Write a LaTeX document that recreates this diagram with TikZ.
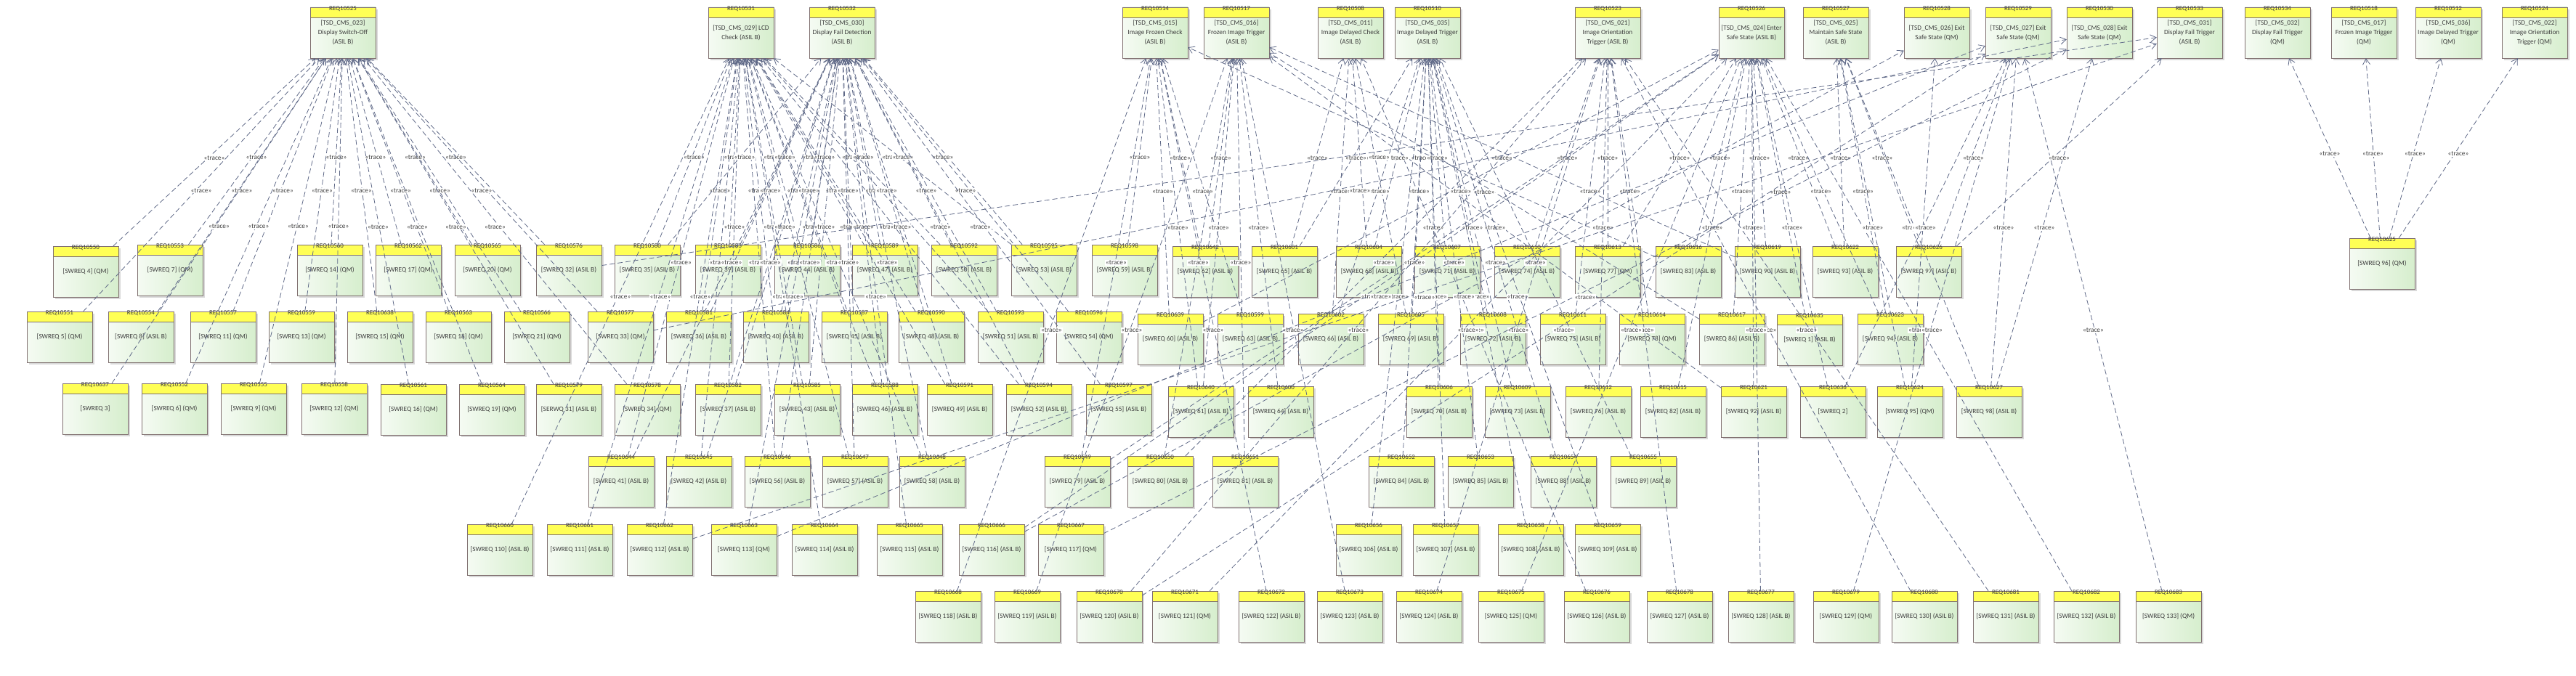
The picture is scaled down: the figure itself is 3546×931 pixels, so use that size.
\documentclass[tikz,border=0pt]{standalone}
\usepackage{fontspec}
\setmainfont{Carlito}
\usetikzlibrary{arrows.meta,shadows}
\definecolor{boxline}{RGB}{128,112,112}
\definecolor{hdrfill}{RGB}{255,255,85}
\definecolor{bodyleft}{RGB}{245,251,243}
\definecolor{bodyright}{RGB}{214,238,205}
\definecolor{tracecol}{RGB}{95,105,135}
\definecolor{textcol}{RGB}{62,62,62}
\tikzset{
    req/.style = {draw=boxline, rectangle,
        minimum width=90pt, minimum height=70pt,
        inner sep=0pt, align=center,
        left color=bodyleft, right color=bodyright, text=textcol,
        font=\fontsize{9.3}{13}\selectfont,
        drop shadow={shadow xshift=3pt, shadow yshift=-3pt, fill=black!25, opacity=0.6},
        path picture={\fill [hdrfill] (path picture bounding box.north west) rectangle ([yshift=-14pt]path picture bounding box.north east);
            \draw [boxline] ([yshift=-14pt]path picture bounding box.north west) -- ([yshift=-14pt]path picture bounding box.north east);}},
    reqid/.style = {anchor=center, yshift=-2pt, inner sep=0pt, text=textcol,
        font=\fontsize{9}{10}\selectfont},
    trace/.style = {draw=tracecol, line width=0.8pt, dash pattern=on 7pt off 4pt,
        -{Straight Barb[length=8pt,width=10pt]}},
    tlabel/.style = {midway, anchor=center, yshift=-8pt, fill=white, inner sep=1pt,
        text=textcol, font=\fontsize{9.3}{10}\selectfont}
}
\begin{document}
\begin{tikzpicture}[x=1pt, y=-1pt]
        \useasboundingbox (0,0) rectangle (3546,931);
        \node [req, label={[reqid]north:REQ10525}] (r10525) at (472,45) {[TSD\_CMS\_023]\\ Display Switch-Off\\ (ASIL B)};
        \node [req, label={[reqid]north:REQ10531}] (r10531) at (1020,45) {[TSD\_CMS\_029] LCD\\ Check (ASIL B)};
        \node [req, label={[reqid]north:REQ10532}] (r10532) at (1159,45) {[TSD\_CMS\_030]\\ Display Fail Detection\\ (ASIL B)};
        \node [req, label={[reqid]north:REQ10514}] (r10514) at (1590,45) {[TSD\_CMS\_015]\\ Image Frozen Check\\ (ASIL B)};
        \node [req, label={[reqid]north:REQ10517}] (r10517) at (1702,45) {[TSD\_CMS\_016]\\ Frozen Image Trigger\\ (ASIL B)};
        \node [req, label={[reqid]north:REQ10508}] (r10508) at (1859,45) {[TSD\_CMS\_011]\\ Image Delayed Check\\ (ASIL B)};
        \node [req, label={[reqid]north:REQ10510}] (r10510) at (1965,45) {[TSD\_CMS\_035]\\ Image Delayed Trigger\\ (ASIL B)};
        \node [req, label={[reqid]north:REQ10523}] (r10523) at (2213,45) {[TSD\_CMS\_021]\\ Image Orientation\\ Trigger (ASIL B)};
        \node [req, label={[reqid]north:REQ10526}] (r10526) at (2411,45) {[TSD\_CMS\_024] Enter\\ Safe State (ASIL B)};
        \node [req, label={[reqid]north:REQ10527}] (r10527) at (2527,45) {[TSD\_CMS\_025]\\ Maintain Safe State\\ (ASIL B)};
        \node [req, label={[reqid]north:REQ10528}] (r10528) at (2666,45) {[TSD\_CMS\_026] Exit\\ Safe State (QM)};
        \node [req, label={[reqid]north:REQ10529}] (r10529) at (2778,45) {[TSD\_CMS\_027] Exit\\ Safe State (QM)};
        \node [req, label={[reqid]north:REQ10530}] (r10530) at (2890,45) {[TSD\_CMS\_028] Exit\\ Safe State (QM)};
        \node [req, label={[reqid]north:REQ10533}] (r10533) at (3014,45) {[TSD\_CMS\_031]\\ Display Fail Trigger\\ (ASIL B)};
        \node [req, label={[reqid]north:REQ10534}] (r10534) at (3135,45) {[TSD\_CMS\_032]\\ Display Fail Trigger\\ (QM)};
        \node [req, label={[reqid]north:REQ10518}] (r10518) at (3254,45) {[TSD\_CMS\_017]\\ Frozen Image Trigger\\ (QM)};
        \node [req, label={[reqid]north:REQ10512}] (r10512) at (3370,45) {[TSD\_CMS\_036]\\ Image Delayed Trigger\\ (QM)};
        \node [req, label={[reqid]north:REQ10524}] (r10524) at (3489,45) {[TSD\_CMS\_022]\\ Image Orientation\\ Trigger (QM)};

        \node [req, label={[reqid]north:REQ10550}] (r10550) at (118,374) {[SWREQ 4] (QM)};
        \node [req, label={[reqid]north:REQ10553}] (r10553) at (234,372) {[SWREQ 7] (QM)};
        \node [req, label={[reqid]north:REQ10560}] (r10560) at (454,372) {[SWREQ 14] (QM)};
        \node [req, label={[reqid]north:REQ10562}] (r10562) at (562,372) {[SWREQ 17] (QM)};
        \node [req, label={[reqid]north:REQ10565}] (r10565) at (671,372) {[SWREQ 20] (QM)};
        \node [req, label={[reqid]north:REQ10576}] (r10576) at (783,372) {[SWREQ 32] (ASIL B)};
        \node [req, label={[reqid]north:REQ10580}] (r10580) at (891,372) {[SWREQ 35] (ASIL B)};
        \node [req, label={[reqid]north:REQ10583}] (r10583) at (1002,372) {[SWREQ 39] (ASIL B)};
        \node [req, label={[reqid]north:REQ10586}] (r10586) at (1111,372) {[SWREQ 44] (ASIL B)};
        \node [req, label={[reqid]north:REQ10589}] (r10589) at (1218,372) {[SWREQ 47] (ASIL B)};
        \node [req, label={[reqid]north:REQ10592}] (r10592) at (1327,372) {[SWREQ 50] (ASIL B)};
        \node [req, label={[reqid]north:REQ10595}] (r10595) at (1437,372) {[SWREQ 53] (ASIL B)};
        \node [req, label={[reqid]north:REQ10598}] (r10598) at (1548,372) {[SWREQ 59] (ASIL B)};
        \node [req, label={[reqid]north:REQ10642}] (r10642) at (1659,374) {[SWREQ 62] (ASIL B)};
        \node [req, label={[reqid]north:REQ10601}] (r10601) at (1768,374) {[SWREQ 65] (ASIL B)};
        \node [req, label={[reqid]north:REQ10604}] (r10604) at (1884,374) {[SWREQ 68] (ASIL B)};
        \node [req, label={[reqid]north:REQ10607}] (r10607) at (1992,374) {[SWREQ 71] (ASIL B)};
        \node [req, label={[reqid]north:REQ10610}] (r10610) at (2102,374) {[SWREQ 74] (ASIL B)};
        \node [req, label={[reqid]north:REQ10613}] (r10613) at (2213,374) {[SWREQ 77] (QM)};
        \node [req, label={[reqid]north:REQ10616}] (r10616) at (2324,374) {[SWREQ 83] (ASIL B)};
        \node [req, label={[reqid]north:REQ10619}] (r10619) at (2433,374) {[SWREQ 90] (ASIL B)};
        \node [req, label={[reqid]north:REQ10622}] (r10622) at (2540,374) {[SWREQ 93] (ASIL B)};
        \node [req, label={[reqid]north:REQ10626}] (r10626) at (2655,374) {[SWREQ 97] (ASIL B)};
        \node [req, label={[reqid]north:REQ10625}] (r10625) at (3279,363) {[SWREQ 96] (QM)};

        \node [req, label={[reqid]north:REQ10551}] (r10551) at (82,464) {[SWREQ 5] (QM)};
        \node [req, label={[reqid]north:REQ10554}] (r10554) at (194,464) {[SWREQ 8] (ASIL B)};
        \node [req, label={[reqid]north:REQ10557}] (r10557) at (307,464) {[SWREQ 11] (QM)};
        \node [req, label={[reqid]north:REQ10559}] (r10559) at (415,464) {[SWREQ 13] (QM)};
        \node [req, label={[reqid]north:REQ10638}] (r10638) at (523,464) {[SWREQ 15] (QM)};
        \node [req, label={[reqid]north:REQ10563}] (r10563) at (631,464) {[SWREQ 18] (QM)};
        \node [req, label={[reqid]north:REQ10566}] (r10566) at (739,464) {[SWREQ 21] (QM)};
        \node [req, label={[reqid]north:REQ10577}] (r10577) at (854,464) {[SWREQ 33] (QM)};
        \node [req, label={[reqid]north:REQ10581}] (r10581) at (962,464) {[SWREQ 36] (ASIL B)};
        \node [req, label={[reqid]north:REQ10584}] (r10584) at (1068,464) {[SWREQ 40] (ASIL B)};
        \node [req, label={[reqid]north:REQ10587}] (r10587) at (1176,464) {[SWREQ 45] (ASIL B)};
        \node [req, label={[reqid]north:REQ10590}] (r10590) at (1282,464) {[SWREQ 48] (ASIL B)};
        \node [req, label={[reqid]north:REQ10593}] (r10593) at (1391,464) {[SWREQ 51] (ASIL B)};
        \node [req, label={[reqid]north:REQ10596}] (r10596) at (1499,464) {[SWREQ 54] (QM)};
        \node [req, label={[reqid]north:REQ10639}] (r10639) at (1611,467) {[SWREQ 60] (ASIL B)};
        \node [req, label={[reqid]north:REQ10599}] (r10599) at (1721,467) {[SWREQ 63] (ASIL B)};
        \node [req, label={[reqid]north:REQ10602}] (r10602) at (1832,467) {[SWREQ 66] (ASIL B)};
        \node [req, label={[reqid]north:REQ10605}] (r10605) at (1942,467) {[SWREQ 69] (ASIL B)};
        \node [req, label={[reqid]north:REQ10608}] (r10608) at (2055,467) {[SWREQ 72] (ASIL B)};
        \node [req, label={[reqid]north:REQ10611}] (r10611) at (2165,467) {[SWREQ 75] (ASIL B)};
        \node [req, label={[reqid]north:REQ10614}] (r10614) at (2274,467) {[SWREQ 78] (QM)};
        \node [req, label={[reqid]north:REQ10617}] (r10617) at (2384,467) {[SWREQ 86] (ASIL B)};
        \node [req, label={[reqid]north:REQ10635}] (r10635) at (2491,468) {[SWREQ 1] (ASIL B)};
        \node [req, label={[reqid]north:REQ10623}] (r10623) at (2602,467) {[SWREQ 94] (ASIL B)};

        \node [req, label={[reqid]north:REQ10637}] (r10637) at (131,563) {[SWREQ 3]};
        \node [req, label={[reqid]north:REQ10552}] (r10552) at (240,563) {[SWREQ 6] (QM)};
        \node [req, label={[reqid]north:REQ10555}] (r10555) at (349,563) {[SWREQ 9] (QM)};
        \node [req, label={[reqid]north:REQ10558}] (r10558) at (460,563) {[SWREQ 12] (QM)};
        \node [req, label={[reqid]north:REQ10561}] (r10561) at (569,564) {[SWREQ 16] (QM)};
        \node [req, label={[reqid]north:REQ10564}] (r10564) at (677,564) {[SWREQ 19] (QM)};
        \node [req, label={[reqid]north:REQ10579}] (r10579) at (783,564) {[SERWQ 31] (ASIL B)};
        \node [req, label={[reqid]north:REQ10578}] (r10578) at (891,564) {[SWREQ 34] (QM)};
        \node [req, label={[reqid]north:REQ10582}] (r10582) at (1002,564) {[SWREQ 37] (ASIL B)};
        \node [req, label={[reqid]north:REQ10585}] (r10585) at (1111,564) {[SWREQ 43] (ASIL B)};
        \node [req, label={[reqid]north:REQ10588}] (r10588) at (1218,564) {[SWREQ 46] (ASIL B)};
        \node [req, label={[reqid]north:REQ10591}] (r10591) at (1321,564) {[SWREQ 49] (ASIL B)};
        \node [req, label={[reqid]north:REQ10594}] (r10594) at (1430,564) {[SWREQ 52] (ASIL B)};
        \node [req, label={[reqid]north:REQ10597}] (r10597) at (1540,564) {[SWREQ 55] (ASIL B)};
        \node [req, label={[reqid]north:REQ10640}] (r10640) at (1653,567) {[SWREQ 61] (ASIL B)};
        \node [req, label={[reqid]north:REQ10600}] (r10600) at (1763,567) {[SWREQ 64] (ASIL B)};
        \node [req, label={[reqid]north:REQ10606}] (r10606) at (1981,567) {[SWREQ 70] (ASIL B)};
        \node [req, label={[reqid]north:REQ10609}] (r10609) at (2089,567) {[SWREQ 73] (ASIL B)};
        \node [req, label={[reqid]north:REQ10612}] (r10612) at (2200,567) {[SWREQ 76] (ASIL B)};
        \node [req, label={[reqid]north:REQ10615}] (r10615) at (2303,567) {[SWREQ 82] (ASIL B)};
        \node [req, label={[reqid]north:REQ10621}] (r10621) at (2414,567) {[SWREQ 92] (ASIL B)};
        \node [req, label={[reqid]north:REQ10636}] (r10636) at (2523,567) {[SWREQ 2]};
        \node [req, label={[reqid]north:REQ10624}] (r10624) at (2629,567) {[SWREQ 95] (QM)};
        \node [req, label={[reqid]north:REQ10627}] (r10627) at (2738,567) {[SWREQ 98] (ASIL B)};

        \node [req, label={[reqid]north:REQ10644}] (r10644) at (855,663) {[SWREQ 41] (ASIL B)};
        \node [req, label={[reqid]north:REQ10645}] (r10645) at (962,663) {[SWREQ 42] (ASIL B)};
        \node [req, label={[reqid]north:REQ10646}] (r10646) at (1070,663) {[SWREQ 56] (ASIL B)};
        \node [req, label={[reqid]north:REQ10647}] (r10647) at (1177,663) {[SWREQ 57] (ASIL B)};
        \node [req, label={[reqid]north:REQ10648}] (r10648) at (1283,663) {[SWREQ 58] (ASIL B)};
        \node [req, label={[reqid]north:REQ10649}] (r10649) at (1483,663) {[SWREQ 79] (ASIL B)};
        \node [req, label={[reqid]north:REQ10650}] (r10650) at (1597,663) {[SWREQ 80] (ASIL B)};
        \node [req, label={[reqid]north:REQ10651}] (r10651) at (1714,663) {[SWREQ 81] (ASIL B)};
        \node [req, label={[reqid]north:REQ10652}] (r10652) at (1929,663) {[SWREQ 84] (ASIL B)};
        \node [req, label={[reqid]north:REQ10653}] (r10653) at (2038,663) {[SWREQ 85] (ASIL B)};
        \node [req, label={[reqid]north:REQ10654}] (r10654) at (2152,663) {[SWREQ 88] (ASIL B)};
        \node [req, label={[reqid]north:REQ10655}] (r10655) at (2262,663) {[SWREQ 89] (ASIL B)};

        \node [req, label={[reqid]north:REQ10660}] (r10660) at (688,757) {[SWREQ 110] (ASIL B)};
        \node [req, label={[reqid]north:REQ10661}] (r10661) at (798,757) {[SWREQ 111] (ASIL B)};
        \node [req, label={[reqid]north:REQ10662}] (r10662) at (908,757) {[SWREQ 112] (ASIL B)};
        \node [req, label={[reqid]north:REQ10663}] (r10663) at (1024,757) {[SWREQ 113] (QM)};
        \node [req, label={[reqid]north:REQ10664}] (r10664) at (1135,757) {[SWREQ 114] (ASIL B)};
        \node [req, label={[reqid]north:REQ10665}] (r10665) at (1252,757) {[SWREQ 115] (ASIL B)};
        \node [req, label={[reqid]north:REQ10666}] (r10666) at (1365,757) {[SWREQ 116] (ASIL B)};
        \node [req, label={[reqid]north:REQ10667}] (r10667) at (1474,757) {[SWREQ 117] (QM)};
        \node [req, label={[reqid]north:REQ10656}] (r10656) at (1884,757) {[SWREQ 106] (ASIL B)};
        \node [req, label={[reqid]north:REQ10657}] (r10657) at (1990,757) {[SWREQ 107] (ASIL B)};
        \node [req, label={[reqid]north:REQ10658}] (r10658) at (2107,757) {[SWREQ 108] (ASIL B)};
        \node [req, label={[reqid]north:REQ10659}] (r10659) at (2213,757) {[SWREQ 109] (ASIL B)};

        \node [req, label={[reqid]north:REQ10668}] (r10668) at (1305,849) {[SWREQ 118] (ASIL B)};
        \node [req, label={[reqid]north:REQ10669}] (r10669) at (1414,849) {[SWREQ 119] (ASIL B)};
        \node [req, label={[reqid]north:REQ10670}] (r10670) at (1527,849) {[SWREQ 120] (ASIL B)};
        \node [req, label={[reqid]north:REQ10671}] (r10671) at (1631,849) {[SWREQ 121] (QM)};
        \node [req, label={[reqid]north:REQ10672}] (r10672) at (1750,849) {[SWREQ 122] (ASIL B)};
        \node [req, label={[reqid]north:REQ10673}] (r10673) at (1858,849) {[SWREQ 123] (ASIL B)};
        \node [req, label={[reqid]north:REQ10674}] (r10674) at (1967,849) {[SWREQ 124] (ASIL B)};
        \node [req, label={[reqid]north:REQ10675}] (r10675) at (2080,849) {[SWREQ 125] (QM)};
        \node [req, label={[reqid]north:REQ10676}] (r10676) at (2198,849) {[SWREQ 126] (ASIL B)};
        \node [req, label={[reqid]north:REQ10678}] (r10678) at (2312,849) {[SWREQ 127] (ASIL B)};
        \node [req, label={[reqid]north:REQ10677}] (r10677) at (2424,849) {[SWREQ 128] (ASIL B)};
        \node [req, label={[reqid]north:REQ10679}] (r10679) at (2541,849) {[SWREQ 129] (QM)};
        \node [req, label={[reqid]north:REQ10680}] (r10680) at (2649,849) {[SWREQ 130] (ASIL B)};
        \node [req, label={[reqid]north:REQ10681}] (r10681) at (2761,849) {[SWREQ 131] (ASIL B)};
        \node [req, label={[reqid]north:REQ10682}] (r10682) at (2872,849) {[SWREQ 132] (ASIL B)};
        \node [req, label={[reqid]north:REQ10683}] (r10683) at (2985,849) {[SWREQ 133] (QM)};

        \draw [trace] (r10550) -- node [tlabel] {«trace»} (r10525);
        \draw [trace] (r10553) -- node [tlabel] {«trace»} (r10525);
        \draw [trace] (r10560) -- node [tlabel] {«trace»} (r10525);
        \draw [trace] (r10562) -- node [tlabel] {«trace»} (r10525);
        \draw [trace] (r10565) -- node [tlabel] {«trace»} (r10525);
        \draw [trace] (r10576) -- node [tlabel] {«trace»} (r10525);
        \draw [trace] (r10551) -- node [tlabel] {«trace»} (r10525);
        \draw [trace] (r10554) -- node [tlabel] {«trace»} (r10525);
        \draw [trace] (r10557) -- node [tlabel] {«trace»} (r10525);
        \draw [trace] (r10559) -- node [tlabel] {«trace»} (r10525);
        \draw [trace] (r10638) -- node [tlabel] {«trace»} (r10525);
        \draw [trace] (r10563) -- node [tlabel] {«trace»} (r10525);
        \draw [trace] (r10566) -- node [tlabel] {«trace»} (r10525);
        \draw [trace] (r10577) -- node [tlabel] {«trace»} (r10525);
        \draw [trace] (r10637) -- node [tlabel] {«trace»} (r10525);
        \draw [trace] (r10552) -- node [tlabel] {«trace»} (r10525);
        \draw [trace] (r10555) -- node [tlabel] {«trace»} (r10525);
        \draw [trace] (r10558) -- node [tlabel] {«trace»} (r10525);
        \draw [trace] (r10561) -- node [tlabel] {«trace»} (r10525);
        \draw [trace] (r10564) -- node [tlabel] {«trace»} (r10525);
        \draw [trace] (r10579) -- node [tlabel] {«trace»} (r10525);
        \draw [trace] (r10578) -- node [tlabel] {«trace»} (r10525);

        \draw [trace] (r10580) -- node [tlabel] {«trace»} (r10531);
        \draw [trace] (r10583) -- node [tlabel] {«trace»} (r10531);
        \draw [trace] (r10586) -- node [tlabel] {«trace»} (r10531);
        \draw [trace] (r10589) -- node [tlabel] {«trace»} (r10531);
        \draw [trace] (r10592) -- node [tlabel] {«trace»} (r10531);
        \draw [trace] (r10595) -- node [tlabel] {«trace»} (r10531);
        \draw [trace] (r10581) -- node [tlabel] {«trace»} (r10531);
        \draw [trace] (r10584) -- node [tlabel] {«trace»} (r10531);
        \draw [trace] (r10587) -- node [tlabel] {«trace»} (r10531);
        \draw [trace] (r10590) -- node [tlabel] {«trace»} (r10531);
        \draw [trace] (r10593) -- node [tlabel] {«trace»} (r10531);
        \draw [trace] (r10582) -- node [tlabel] {«trace»} (r10531);
        \draw [trace] (r10585) -- node [tlabel] {«trace»} (r10531);
        \draw [trace] (r10588) -- node [tlabel] {«trace»} (r10531);
        \draw [trace] (r10591) -- node [tlabel] {«trace»} (r10531);
        \draw [trace] (r10594) -- node [tlabel] {«trace»} (r10531);
        \draw [trace] (r10644) -- node [tlabel] {«trace»} (r10531);
        \draw [trace] (r10645) -- node [tlabel] {«trace»} (r10531);
        \draw [trace] (r10646) -- node [tlabel] {«trace»} (r10531);
        \draw [trace] (r10647) -- node [tlabel] {«trace»} (r10531);
        \draw [trace] (r10648) -- node [tlabel] {«trace»} (r10531);
        \draw [trace] (r10660) -- node [tlabel] {«trace»} (r10531);
        \draw [trace] (r10661) -- node [tlabel] {«trace»} (r10531);
        \draw [trace] (r10662) -- node [tlabel] {«trace»} (r10531);
        \draw [trace] (r10664) -- node [tlabel] {«trace»} (r10531);

        \draw [trace] (r10580) -- node [tlabel] {«trace»} (r10532);
        \draw [trace] (r10583) -- node [tlabel] {«trace»} (r10532);
        \draw [trace] (r10586) -- node [tlabel] {«trace»} (r10532);
        \draw [trace] (r10589) -- node [tlabel] {«trace»} (r10532);
        \draw [trace] (r10592) -- node [tlabel] {«trace»} (r10532);
        \draw [trace] (r10595) -- node [tlabel] {«trace»} (r10532);
        \draw [trace] (r10581) -- node [tlabel] {«trace»} (r10532);
        \draw [trace] (r10584) -- node [tlabel] {«trace»} (r10532);
        \draw [trace] (r10587) -- node [tlabel] {«trace»} (r10532);
        \draw [trace] (r10590) -- node [tlabel] {«trace»} (r10532);
        \draw [trace] (r10593) -- node [tlabel] {«trace»} (r10532);
        \draw [trace] (r10596) -- node [tlabel] {«trace»} (r10532);
        \draw [trace] (r10582) -- node [tlabel] {«trace»} (r10532);
        \draw [trace] (r10585) -- node [tlabel] {«trace»} (r10532);
        \draw [trace] (r10588) -- node [tlabel] {«trace»} (r10532);
        \draw [trace] (r10591) -- node [tlabel] {«trace»} (r10532);
        \draw [trace] (r10594) -- node [tlabel] {«trace»} (r10532);
        \draw [trace] (r10597) -- node [tlabel] {«trace»} (r10532);
        \draw [trace] (r10644) -- node [tlabel] {«trace»} (r10532);
        \draw [trace] (r10645) -- node [tlabel] {«trace»} (r10532);
        \draw [trace] (r10646) -- node [tlabel] {«trace»} (r10532);
        \draw [trace] (r10647) -- node [tlabel] {«trace»} (r10532);
        \draw [trace] (r10648) -- node [tlabel] {«trace»} (r10532);
        \draw [trace] (r10663) -- node [tlabel] {«trace»} (r10532);
        \draw [trace] (r10665) -- node [tlabel] {«trace»} (r10532);

        \draw [trace] (r10598) -- node [tlabel] {«trace»} (r10514);
        \draw [trace] (r10639) -- node [tlabel] {«trace»} (r10514);
        \draw [trace] (r10599) -- node [tlabel] {«trace»} (r10514);
        \draw [trace] (r10640) -- node [tlabel] {«trace»} (r10514);
        \draw [trace] (r10642) -- node [tlabel] {«trace»} (r10514);
        \draw [trace] (r10649) -- node [tlabel] {«trace»} (r10514);
        \draw [trace] (r10668) -- node [tlabel] {«trace»} (r10514);
        \draw [trace] (r10672) -- node [tlabel] {«trace»} (r10514);
        \draw [trace] (r10616) -- node [tlabel] {«trace»} (r10514);

        \draw [trace] (r10642) -- node [tlabel] {«trace»} (r10517);
        \draw [trace] (r10600) -- node [tlabel] {«trace»} (r10517);
        \draw [trace] (r10640) -- node [tlabel] {«trace»} (r10517);
        \draw [trace] (r10650) -- node [tlabel] {«trace»} (r10517);
        \draw [trace] (r10651) -- node [tlabel] {«trace»} (r10517);
        \draw [trace] (r10669) -- node [tlabel] {«trace»} (r10517);
        \draw [trace] (r10673) -- node [tlabel] {«trace»} (r10517);
        \draw [trace] (r10619) -- node [tlabel] {«trace»} (r10517);
        \draw [trace] (r10617) -- node [tlabel] {«trace»} (r10517);
        \draw [trace] (r10621) -- node [tlabel] {«trace»} (r10517);

        \draw [trace] (r10601) -- node [tlabel] {«trace»} (r10508);
        \draw [trace] (r10602) -- node [tlabel] {«trace»} (r10508);
        \draw [trace] (r10604) -- node [tlabel] {«trace»} (r10508);
        \draw [trace] (r10605) -- node [tlabel] {«trace»} (r10508);
        \draw [trace] (r10676) -- node [tlabel] {«trace»} (r10508);

        \draw [trace] (r10601) -- node [tlabel] {«trace»} (r10510);
        \draw [trace] (r10604) -- node [tlabel] {«trace»} (r10510);
        \draw [trace] (r10607) -- node [tlabel] {«trace»} (r10510);
        \draw [trace] (r10602) -- node [tlabel] {«trace»} (r10510);
        \draw [trace] (r10605) -- node [tlabel] {«trace»} (r10510);
        \draw [trace] (r10608) -- node [tlabel] {«trace»} (r10510);
        \draw [trace] (r10606) -- node [tlabel] {«trace»} (r10510);
        \draw [trace] (r10609) -- node [tlabel] {«trace»} (r10510);
        \draw [trace] (r10652) -- node [tlabel] {«trace»} (r10510);
        \draw [trace] (r10653) -- node [tlabel] {«trace»} (r10510);
        \draw [trace] (r10654) -- node [tlabel] {«trace»} (r10510);
        \draw [trace] (r10655) -- node [tlabel] {«trace»} (r10510);
        \draw [trace] (r10656) -- node [tlabel] {«trace»} (r10510);
        \draw [trace] (r10657) -- node [tlabel] {«trace»} (r10510);
        \draw [trace] (r10658) -- node [tlabel] {«trace»} (r10510);
        \draw [trace] (r10659) -- node [tlabel] {«trace»} (r10510);

        \draw [trace] (r10610) -- node [tlabel] {«trace»} (r10523);
        \draw [trace] (r10613) -- node [tlabel] {«trace»} (r10523);
        \draw [trace] (r10611) -- node [tlabel] {«trace»} (r10523);
        \draw [trace] (r10614) -- node [tlabel] {«trace»} (r10523);
        \draw [trace] (r10612) -- node [tlabel] {«trace»} (r10523);
        \draw [trace] (r10674) -- node [tlabel] {«trace»} (r10523);
        \draw [trace] (r10678) -- node [tlabel] {«trace»} (r10523);
        \draw [trace] (r10680) -- node [tlabel] {«trace»} (r10523);
        \draw [trace] (r10681) -- node [tlabel] {«trace»} (r10523);
        \draw [trace] (r10650) -- node [tlabel] {«trace»} (r10523);
        \draw [trace] (r10670) -- node [tlabel] {«trace»} (r10523);

        \draw [trace] (r10616) -- node [tlabel] {«trace»} (r10526);
        \draw [trace] (r10619) -- node [tlabel] {«trace»} (r10526);
        \draw [trace] (r10622) -- node [tlabel] {«trace»} (r10526);
        \draw [trace] (r10617) -- node [tlabel] {«trace»} (r10526);
        \draw [trace] (r10635) -- node [tlabel] {«trace»} (r10526);
        \draw [trace] (r10615) -- node [tlabel] {«trace»} (r10526);
        \draw [trace] (r10621) -- node [tlabel] {«trace»} (r10526);
        \draw [trace] (r10636) -- node [tlabel] {«trace»} (r10526);
        \draw [trace] (r10623) -- node [tlabel] {«trace»} (r10526);
        \draw [trace] (r10675) -- node [tlabel] {«trace»} (r10526);
        \draw [trace] (r10677) -- node [tlabel] {«trace»} (r10526);
        \draw [trace] (r10682) -- node [tlabel] {«trace»} (r10526);
        \draw [trace] (r10613) -- node [tlabel] {«trace»} (r10526);
        \draw [trace] (r10639) -- node [tlabel] {«trace»} (r10526);
        \draw [trace] (r10649) -- node [tlabel] {«trace»} (r10526);
        \draw [trace] (r10666) -- node [tlabel] {«trace»} (r10526);
        \draw [trace] (r10671) -- node [tlabel] {«trace»} (r10526);

        \draw [trace] (r10626) -- node [tlabel] {«trace»} (r10527);
        \draw [trace] (r10623) -- node [tlabel] {«trace»} (r10527);
        \draw [trace] (r10624) -- node [tlabel] {«trace»} (r10527);
        \draw [trace] (r10627) -- node [tlabel] {«trace»} (r10527);
        \draw [trace] (r10622) -- node [tlabel] {«trace»} (r10527);

        \draw [trace] (r10624) -- node [tlabel] {«trace»} (r10528);
        \draw [trace] (r10666) -- node [tlabel] {«trace»} (r10528);

        \draw [trace] (r10683) -- node [tlabel] {«trace»} (r10529);
        \draw [trace] (r10679) -- node [tlabel] {«trace»} (r10529);
        \draw [trace] (r10626) -- node [tlabel] {«trace»} (r10529);
        \draw [trace] (r10627) -- node [tlabel] {«trace»} (r10529);
        \draw [trace] (r10663) -- node [tlabel] {«trace»} (r10529);
        \draw [trace] (r10670) -- node [tlabel] {«trace»} (r10529);
        \draw [trace] (r10636) -- node [tlabel] {«trace»} (r10529);

        \draw [trace] (r10627) -- node [tlabel] {«trace»} (r10530);
        \draw [trace] (r10577) -- node [tlabel] {«trace»} (r10530);
        \draw [trace] (r10667) -- node [tlabel] {«trace»} (r10530);

        \draw [trace] (r10576) -- node [tlabel] {«trace»} (r10533);
        \draw [trace] (r10662) -- node [tlabel] {«trace»} (r10533);
        \draw [trace] (r10626) -- node [tlabel] {«trace»} (r10533);

        \draw [trace] (r10625) -- node [tlabel] {«trace»} (r10534);
        \draw [trace] (r10625) -- node [tlabel] {«trace»} (r10518);
        \draw [trace] (r10625) -- node [tlabel] {«trace»} (r10512);
        \draw [trace] (r10625) -- node [tlabel] {«trace»} (r10524);
\end{tikzpicture}
\end{document}
